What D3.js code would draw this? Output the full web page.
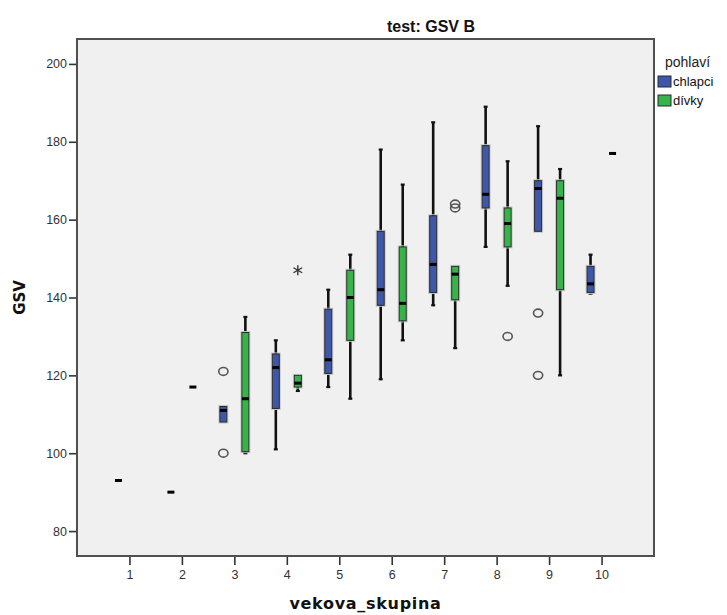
<!DOCTYPE html>
<html>
<head>
<meta charset="utf-8">
<script src="https://cdn.jsdelivr.net/npm/d3@7"></script>
<style>
  html, body { margin: 0; padding: 0; background: #ffffff; }
  svg { display: block; font-family: "Liberation Sans", Arial, sans-serif; }
</style>
</head>
<body>
<svg id="chart" width="727" height="615"></svg>
<script>
// Age groups on the x axis and the two sexes
const categories = [1, 2, 3, 4, 5, 6, 7, 8, 9, 10];
const sexes = ["chlapci", "dívky"];
const sexColors = ["#3d57a9", "#37b449"];
const yTicks = [80, 100, 120, 140, 160, 180, 200];

// chlapci: whisker low, Q1, median, Q3, whisker high per age group
const boysLow    = [93, 90, 108, 101, 117, 119, 138, 153, 157, 141];
const boysQ1     = [93, 90, 108, 111.5, 120.5, 138, 141.3, 163, 157, 141.3];
const boysMedian = [93, 90, 111, 122, 124, 142, 148.5, 166.5, 168, 143.5];
const boysQ3     = [93, 90, 112, 125.5, 137, 157, 161, 179, 170, 148];
const boysHigh   = [93, 90, 112, 129, 142, 178, 185, 189, 184, 151];

// dívky: same statistics (no girls in group 1)
const girlsLow    = [null, 117, 100, 116, 114, 129, 127, 143, 120, 177];
const girlsQ1     = [null, 117, 100.4, 117, 129, 134, 139.4, 153, 142, 177];
const girlsMedian = [null, 117, 114, 118, 140, 138.5, 146, 159, 165.5, 177];
const girlsQ3     = [null, 117, 131, 120, 147, 153, 148, 163, 170, 177];
const girlsHigh   = [null, 117, 135, 120, 151, 169, 148, 175, 173, 177];

// Outliers (circles) and extremes (stars)
const outlierGroup = [3, 3, 9, 9, 4, 7, 7, 8];
const outlierSex   = ["chlapci", "chlapci", "chlapci", "chlapci", "dívky", "dívky", "dívky", "dívky"];
const outlierValue = [121, 100, 136, 120, 147, 164, 163, 130];
const outlierKind  = ["o", "o", "o", "o", "*", "o", "o", "o"];

const boxes = [];
categories.forEach((c, i) => {
  boxes.push({ cat: c, sex: sexes[0], low: boysLow[i], q1: boysQ1[i], med: boysMedian[i], q3: boysQ3[i], high: boysHigh[i] });
  if (girlsMedian[i] !== null)
    boxes.push({ cat: c, sex: sexes[1], low: girlsLow[i], q1: girlsQ1[i], med: girlsMedian[i], q3: girlsQ3[i], high: girlsHigh[i] });
});
const outliers = outlierValue.map((v, i) => ({ cat: outlierGroup[i], sex: outlierSex[i], value: v, kind: outlierKind[i] }));

const svg = d3.select("#chart");
const plot = { left: 77, top: 39, right: 654, bottom: 556 };

const x = d3.scalePoint().domain(categories).range([plot.left, plot.right]).padding(1);
const xSex = d3.scaleBand().domain(sexes).range([-22, 22]);
const y = d3.scaleLinear().domain([73.6, 206.4]).range([plot.bottom, plot.top]);
const color = d3.scaleOrdinal().domain(sexes).range(sexColors);
const cx = d => x(d.cat) + xSex(d.sex) + xSex.bandwidth() / 2;
const boxW = 7;

// Plot background and frame
svg.append("rect")
  .attr("x", plot.left).attr("y", plot.top)
  .attr("width", plot.right - plot.left).attr("height", plot.bottom - plot.top)
  .attr("fill", "#f0f0f0").attr("stroke", "#505050").attr("stroke-width", 2);

// Axes
const yAxis = svg.append("g")
  .attr("transform", `translate(${plot.left - 1},0)`)
  .call(d3.axisLeft(y).tickValues(yTicks).tickSize(7).tickPadding(2));
const xAxis = svg.append("g")
  .attr("transform", `translate(0,${plot.bottom + 1})`)
  .call(d3.axisBottom(x).tickSize(8).tickPadding(5));
[yAxis, xAxis].forEach(g => {
  g.select(".domain").remove();
  g.selectAll(".tick line").attr("stroke", "#333").attr("stroke-width", 1.6);
  g.selectAll(".tick text").attr("fill", "#333").attr("font-size", 12.5)
    .attr("font-family", "\"Liberation Sans\", Arial, sans-serif");
});

// Whiskers
const boxG = svg.append("g");
const ranged = boxes.filter(d => d.high > d.low);
boxG.selectAll("line.whisker")
  .data(ranged)
  .join("line")
  .attr("class", "whisker")
  .attr("x1", cx).attr("x2", cx)
  .attr("y1", d => y(d.high)).attr("y2", d => y(d.low))
  .attr("stroke", "#111").attr("stroke-width", 2.6);
boxG.selectAll("line.capHigh")
  .data(ranged.filter(d => d.high > d.q3))
  .join("line")
  .attr("x1", d => cx(d) - 2).attr("x2", d => cx(d) + 2)
  .attr("y1", d => y(d.high)).attr("y2", d => y(d.high))
  .attr("stroke", "#111").attr("stroke-width", 2.2);
boxG.selectAll("line.capLow")
  .data(ranged.filter(d => d.low < d.q1))
  .join("line")
  .attr("x1", d => cx(d) - 2).attr("x2", d => cx(d) + 2)
  .attr("y1", d => y(d.low)).attr("y2", d => y(d.low))
  .attr("stroke", "#111").attr("stroke-width", 2.2);

// Boxes
const withBox = boxes.filter(d => d.q3 > d.q1);
boxG.selectAll("rect.halo")
  .data(withBox)
  .join("rect")
  .attr("x", d => cx(d) - boxW / 2 - 1).attr("width", boxW + 2)
  .attr("y", d => y(d.q3) - 1).attr("height", d => y(d.q1) - y(d.q3) + 2)
  .attr("fill", "none").attr("stroke", "#c8c8c8").attr("stroke-width", 1);
boxG.selectAll("rect.box")
  .data(withBox)
  .join("rect")
  .attr("x", d => cx(d) - boxW / 2).attr("width", boxW)
  .attr("y", d => y(d.q3)).attr("height", d => y(d.q1) - y(d.q3))
  .attr("fill", d => color(d.sex)).attr("stroke", "#2b2b2b").attr("stroke-width", 1);

// Medians
boxG.selectAll("line.median")
  .data(boxes)
  .join("line")
  .attr("x1", d => cx(d) - boxW / 2).attr("x2", d => cx(d) + boxW / 2)
  .attr("y1", d => y(d.med)).attr("y2", d => y(d.med))
  .attr("stroke", "#000").attr("stroke-width", 3);

// Outliers
svg.selectAll("ellipse.out")
  .data(outliers.filter(d => d.kind === "o"))
  .join("ellipse")
  .attr("cx", cx).attr("cy", d => y(d.value))
  .attr("rx", 4.6).attr("ry", 3.9)
  .attr("fill", "none").attr("stroke", "#555").attr("stroke-width", 1.6);
const stars = svg.selectAll("g.star")
  .data(outliers.filter(d => d.kind === "*"))
  .join("g")
  .attr("transform", d => `translate(${cx(d)},${y(d.value)})`);
[90, 30, -30].forEach(a => {
  const r = 5, t = a * Math.PI / 180;
  stars.append("line")
    .attr("x1", -r * Math.cos(t)).attr("y1", -r * Math.sin(t))
    .attr("x2", r * Math.cos(t)).attr("y2", r * Math.sin(t))
    .attr("stroke", "#333").attr("stroke-width", 1.4);
});

// Titles
svg.append("text")
  .attr("x", 431).attr("y", 32).attr("text-anchor", "middle")
  .attr("font-size", 16).attr("font-weight", "bold").attr("fill", "#111")
  .text("test: GSV B");
svg.append("text")
  .attr("transform", `translate(25,${(plot.top + plot.bottom) / 2}) rotate(-90)`)
  .attr("text-anchor", "middle")
  .attr("font-family", "\"DejaVu Sans\", sans-serif")
  .attr("font-size", 15).attr("font-weight", "bold").attr("fill", "#111")
  .text("GSV");
svg.append("text")
  .attr("x", (plot.left + plot.right) / 2).attr("y", 609).attr("text-anchor", "middle")
  .attr("font-family", "\"DejaVu Sans\", sans-serif")
  .attr("font-size", 16).attr("letter-spacing", 0.7)
  .attr("font-weight", "bold").attr("fill", "#111")
  .text("vekova_skupina");

// Legend
const legend = svg.append("g");
legend.append("text")
  .attr("x", 665).attr("y", 67)
  .attr("font-size", 14).attr("fill", "#222")
  .text("pohlaví");
const items = legend.selectAll("g.item")
  .data(sexes)
  .join("g")
  .attr("transform", (d, i) => `translate(658,${76 + i * 19})`);
items.append("rect")
  .attr("width", 13).attr("height", 11)
  .attr("fill", d => color(d)).attr("stroke", "#2b2b2b").attr("stroke-width", 1);
items.append("text")
  .attr("x", 15).attr("y", 10)
  .attr("font-size", 13).attr("fill", "#111")
  .text(d => d);
</script>
</body>
</html>
